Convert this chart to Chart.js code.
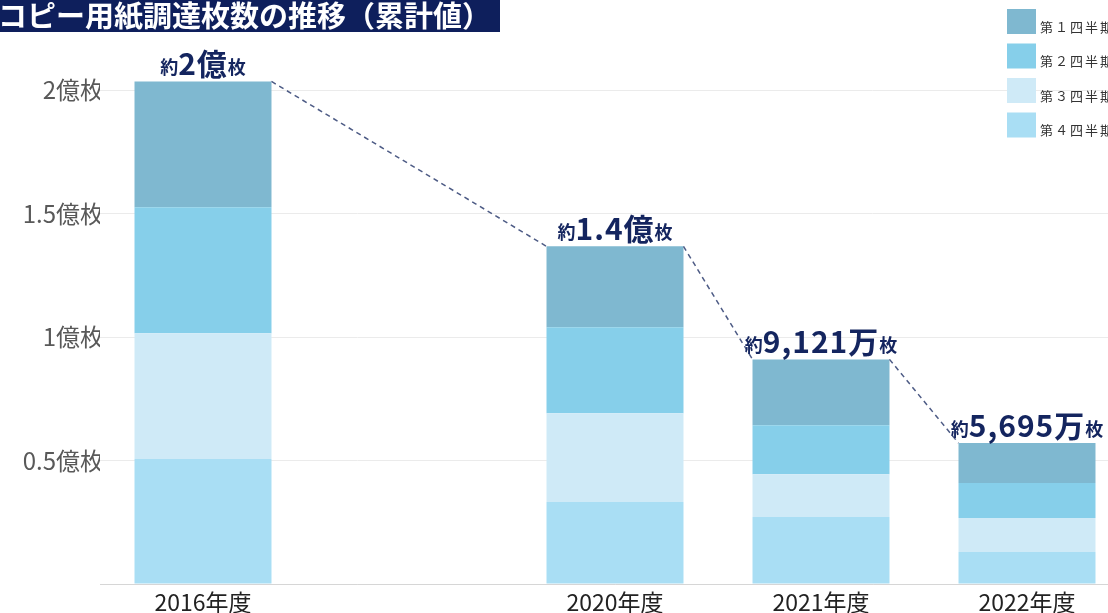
<!DOCTYPE html>
<html><head><meta charset="utf-8">
<script src="https://cdn.jsdelivr.net/npm/chart.js@4.4.0/dist/chart.umd.min.js"></script>
<style>html,body{margin:0;padding:0;background:#fff;overflow:hidden}#wrap{width:1108px;height:613px;position:relative;overflow:hidden}canvas{display:block}</style>
</head><body><div id="wrap"><canvas id="c" width="1130" height="613"></canvas></div>
<script>
const titleText = 'コピー用紙調達枚数の推移（累計値）';
const categories = ['2016年度', '', '2020年度', '2021年度', '2022年度'];
const seriesNames = ['第１四半期', '第２四半期', '第３四半期', '第４四半期'];
// values in 億枚
const q1 = [0.510, null, 0.328, 0.267, 0.162];
const q2 = [0.510, null, 0.348, 0.198, 0.142];
const q3 = [0.510, null, 0.360, 0.174, 0.137];
const q4 = [0.506, null, 0.332, 0.271, 0.130];
const totalPrefix = '約';
const totalMain = ['2億', '', '1.4億', '9,121万', '5,695万'];
const totalSuffix = '枚';
const yTicks = [0, 0.5, 1, 1.5, 2];
const yTickLabels = ['', '0.5億枚', '1億枚', '1.5億枚', '2億枚'];

const colors = ['#7fb8d0', '#86cfea', '#cfeaf7', '#a9def4'];
const JP = '"Noto Sans CJK JP", "Noto Sans", sans-serif';
const NAVY = '#14255f';

const overlay = {
  id: 'overlay',
  beforeDraw(chart) {
    const ctx = chart.ctx;
    ctx.save();
    ctx.fillStyle = '#fff';
    ctx.fillRect(0, 0, chart.width, chart.height);
    ctx.restore();
  },
  afterDatasetsDraw(chart) {
    const ctx = chart.ctx;
    const last = chart.data.datasets.length - 1;
    const top = chart.getDatasetMeta(last);
    const pts = [];
    top.data.forEach((el, i) => {
      const v = chart.data.datasets[last].data[i];
      if (v === null || v === undefined) return;
      pts.push({i, x: el.x, y: el.y, w: el.width});
    });
    // dashed connectors
    ctx.save();
    ctx.strokeStyle = '#4d5b85';
    ctx.lineWidth = 1.5;
    ctx.setLineDash([5, 4]);
    for (let k = 0; k < pts.length - 1; k++) {
      const a = pts[k], b = pts[k + 1];
      ctx.beginPath();
      ctx.moveTo(a.x + a.w / 2, a.y);
      ctx.lineTo(b.x - b.w / 2, b.y);
      ctx.stroke();
    }
    ctx.restore();
    // total labels
    ctx.save();
    ctx.fillStyle = NAVY;
    ctx.textBaseline = 'alphabetic';
    ctx.textAlign = 'left';
    const small = 'bold 18px ' + JP;
    const big = 'bold 30px ' + JP;
    pts.forEach(p => {
      ctx.letterSpacing = '0px';
      ctx.font = small; const w1 = ctx.measureText(totalPrefix).width; const w3 = ctx.measureText(totalSuffix).width;
      ctx.letterSpacing = '1px';
      ctx.font = big; const w2 = ctx.measureText(totalMain[p.i]).width;
      let x = p.x - (w1 + w2 + w3) / 2;
      const y = p.y - 7;
      ctx.letterSpacing = '0px';
      ctx.font = small; ctx.fillText(totalPrefix, x, y); x += w1;
      ctx.letterSpacing = '1px';
      ctx.font = big; ctx.fillText(totalMain[p.i], x, y + 1); x += w2;
      ctx.letterSpacing = '0px';
      ctx.font = small; ctx.fillText(totalSuffix, x, y);
    });
    ctx.restore();
  },
  afterDraw(chart) {
    const ctx = chart.ctx;
    ctx.save();
    // title
    ctx.fillStyle = '#0e1f5c';
    ctx.fillRect(0, 0, 500, 32);
    ctx.fillStyle = '#fff';
    ctx.font = 'bold 29px ' + JP;
    ctx.textBaseline = 'middle';
    ctx.textAlign = 'left';
    ctx.fillText(titleText, -2, 16);
    // legend
    ctx.font = '13px ' + JP;
    ctx.letterSpacing = '2px';
    ctx.textBaseline = 'middle';
    seriesNames.forEach((n, k) => {
      const by = 9 + k * 34.5;
      ctx.fillStyle = colors[k];
      ctx.fillRect(1007, by, 29, 25);
      ctx.fillStyle = '#333';
      ctx.fillText(n, 1040, by + 18);
    });
    ctx.restore();
  }
};

const datasets = [
  {label: seriesNames[3], data: q4, backgroundColor: colors[3]},
  {label: seriesNames[2], data: q3, backgroundColor: colors[2]},
  {label: seriesNames[1], data: q2, backgroundColor: colors[1]},
  {label: seriesNames[0], data: q1, backgroundColor: colors[0]}
].map(d => Object.assign(d, {borderWidth: 0, categoryPercentage: 1, barPercentage: 0.665, stack: 's'}));

new Chart(document.getElementById('c'), {
  type: 'bar',
  data: {labels: categories, datasets},
  options: {
    responsive: false,
    animation: false,
    layout: {padding: {top: 41, right: 0, bottom: 0, left: 0}},
    plugins: {legend: {display: false}, tooltip: {enabled: false}},
    scales: {
      x: {
        stacked: true,
        afterFit: s => { s.height = 29; },
        grid: {display: false, drawTicks: false},
        border: {display: true, color: '#d6d6d6', width: 1},
        ticks: {color: '#222', font: {family: JP, size: 23}, padding: 4, maxRotation: 0, autoSkip: false}
      },
      y: {
        stacked: true,
        min: 0, max: 2.2,
        afterBuildTicks: s => { s.ticks = yTicks.map(v => ({value: v})); },
        afterFit: s => { s.width = 100; },
        grid: {color: '#ebebeb', drawTicks: false},
        border: {display: false},
        ticks: {color: '#595959', font: {family: JP, size: 24}, padding: -4,
          callback: v => yTickLabels[yTicks.indexOf(v)] ?? ''}
      }
    }
  },
  plugins: [overlay]
});
</script></body></html>
